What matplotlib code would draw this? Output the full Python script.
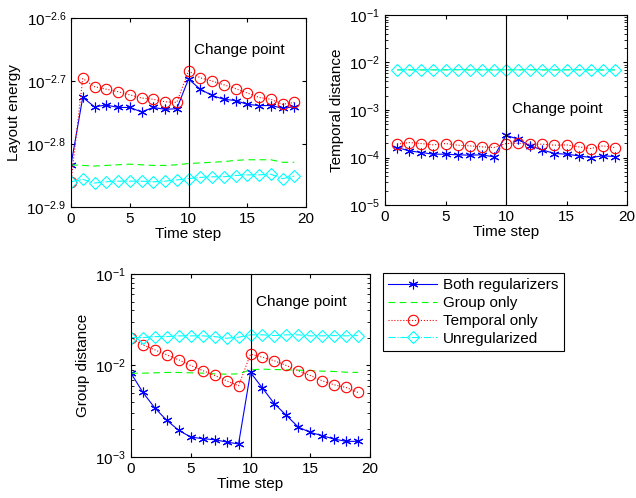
import numpy as np
import matplotlib
matplotlib.use("Agg")
import matplotlib.pyplot as plt

plt.rcParams['font.family'] = ['Liberation Sans', 'DejaVu Sans']
plt.rcParams['mathtext.default'] = 'regular'
plt.rcParams['font.size'] = 11

t_all = np.arange(20)
t_from1 = np.arange(1, 20)

# layout energy
energy_both = [-2.833, -2.726, -2.741, -2.738, -2.742, -2.742, -2.749, -2.742, -2.745, -2.744,
               -2.697, -2.713, -2.723, -2.729, -2.731, -2.737, -2.739, -2.739, -2.743, -2.741]
energy_group = [-2.833, -2.834, -2.835, -2.834, -2.833, -2.832, -2.833, -2.834, -2.834, -2.833,
                -2.831, -2.830, -2.829, -2.828, -2.826, -2.825, -2.825, -2.825, -2.829, -2.829]
energy_temporal = [-2.860, -2.696, -2.709, -2.713, -2.717, -2.722, -2.727, -2.729, -2.733, -2.734,
                   -2.684, -2.695, -2.700, -2.706, -2.712, -2.719, -2.726, -2.729, -2.737, -2.734]
energy_unreg = [-2.860, -2.856, -2.862, -2.860, -2.859, -2.859, -2.859, -2.860, -2.859, -2.857,
                -2.855, -2.853, -2.852, -2.852, -2.850, -2.849, -2.849, -2.848, -2.855, -2.851]

# temporal distance (from step 1)
temp_both = [-3.790, -3.860, -3.895, -3.930, -3.930, -3.944, -3.951, -3.944, -3.986,
             -3.531, -3.615, -3.755, -3.839, -3.916, -3.930, -3.965, -4.000, -3.965, -3.979]
temp_group = [-2.155, -2.153, -2.156, -2.154, -2.155, -2.152, -2.155, -2.154, -2.155,
              -2.154, -2.155, -2.153, -2.154, -2.155, -2.154, -2.153, -2.155, -2.157, -2.155]
temp_temporal = [-3.720, -3.685, -3.706, -3.734, -3.706, -3.741, -3.755, -3.776, -3.790,
                 -3.706, -3.699, -3.720, -3.720, -3.741, -3.734, -3.776, -3.811, -3.755, -3.790]
temp_unreg = [-2.154, -2.154, -2.154, -2.154, -2.154, -2.150, -2.154, -2.154, -2.154,
              -2.154, -2.154, -2.150, -2.154, -2.154, -2.154, -2.150, -2.154, -2.154, -2.154]

# group distance
group_both = [-2.084, -2.295, -2.465, -2.600, -2.709, -2.782, -2.800, -2.811, -2.836, -2.858,
              -2.076, -2.247, -2.418, -2.545, -2.673, -2.731, -2.767, -2.804, -2.829, -2.829]
group_group = [-2.084, -2.084, -2.080, -2.076, -2.076, -2.080, -2.084, -2.091, -2.095, -2.091,
               -2.047, -2.040, -2.044, -2.047, -2.051, -2.055, -2.062, -2.065, -2.073, -2.076]
group_temporal = [-1.695, -1.775, -1.829, -1.884, -1.938, -2.000, -2.055, -2.109, -2.167, -2.222,
                  -1.876, -1.909, -1.949, -2.000, -2.058, -2.109, -2.167, -2.211, -2.240, -2.295]
group_unreg = [-1.695, -1.695, -1.684, -1.684, -1.676, -1.676, -1.676, -1.684, -1.702, -1.691,
               -1.665, -1.665, -1.673, -1.665, -1.665, -1.676, -1.676, -1.673, -1.676, -1.673]

labels = ['Both regularizers', 'Group only', 'Temporal only', 'Unregularized']
change_step = 10

W, H = 636, 498
fig = plt.figure(figsize=(W / 100, H / 100), dpi=100)


def px_axes(left, top, right, bottom):
    return fig.add_axes([left / W, 1 - bottom / H, (right - left) / W, (bottom - top) / H])


def draw(ax, t, both, group, temporal, unreg):
    ax.plot(t, 10 ** np.array(both), color='b', lw=0.8, marker=(6, 2, 0), ms=7, mew=0.8,
            label=labels[0])
    ax.plot(t, 10 ** np.array(group), color=(0, 1, 0), lw=0.8, dashes=(6, 4), label=labels[1])
    ax.plot(t, 10 ** np.array(temporal), color='r', lw=0.8, ls=':', marker='o', ms=7.5,
            mfc='none', mew=0.8, label=labels[2])
    ax.plot(t, 10 ** np.array(unreg), color=(0, 1, 1), lw=0.8, ls='-.', marker='D', ms=6.5,
            mfc='none', mew=0.8, label=labels[3])
    ax.axvline(change_step, color='k', lw=0.8)
    ax.set_yscale('log')
    ax.set_xlim(0, 20)
    ax.set_xticks([0, 5, 10, 15, 20])
    ax.set_xlabel('Time step', labelpad=1)
    ax.tick_params(direction='in', which='both', top=True, right=True, length=3)
    ax.tick_params(which='minor', length=2)
    for s in ax.spines.values():
        s.set_linewidth(0.8)


ax1 = px_axes(71, 18, 306, 207)
draw(ax1, t_all, energy_both, energy_group, energy_temporal, energy_unreg)
ax1.set_ylim(10 ** -2.9, 10 ** -2.6)
ex1 = [-2.9, -2.8, -2.7, -2.6]
ax1.set_yticks([10 ** e for e in ex1])
ax1.set_yticks([], minor=True)
ax1.set_yticklabels(['$10^{%g}$' % e for e in ex1])
ax1.set_ylabel('Layout energy')
ax1.text(10.5, 10 ** -2.651, 'Change point', va='center')

ax2 = px_axes(385, 15, 627, 205)
draw(ax2, t_from1, temp_both, temp_group, temp_temporal, temp_unreg)
ax2.set_ylim(1e-5, 1e-1)
ex2 = [-5, -4, -3, -2, -1]
ax2.set_yticks([10.0 ** e for e in ex2])
ax2.set_yticklabels(['$10^{%d}$' % e for e in ex2])
ax2.set_ylabel('Temporal distance')
ax2.text(10.5, 10 ** -2.986, 'Change point', va='center')

ax3 = px_axes(131, 274, 370, 457)
draw(ax3, t_all, group_both, group_group, group_temporal, group_unreg)
ax3.set_ylim(1e-3, 1e-1)
ex3 = [-3, -2, -1]
ax3.set_yticks([10.0 ** e for e in ex3])
ax3.set_yticklabels(['$10^{%d}$' % e for e in ex3])
ax3.set_ylabel('Group distance')
ax3.text(10.5, 10 ** -1.302, 'Change point', va='center')

handles, _ = ax3.get_legend_handles_labels()
leg = fig.legend(handles, labels, loc='upper left', bbox_to_anchor=(383 / W, 1 - 273 / H),
                 borderaxespad=0, fancybox=False, edgecolor='k', framealpha=1,
                 handlelength=3.2, labelspacing=0.25, borderpad=0.35, handletextpad=0.4)
leg.get_frame().set_linewidth(0.8)

fig.savefig('out.png', dpi=100)
